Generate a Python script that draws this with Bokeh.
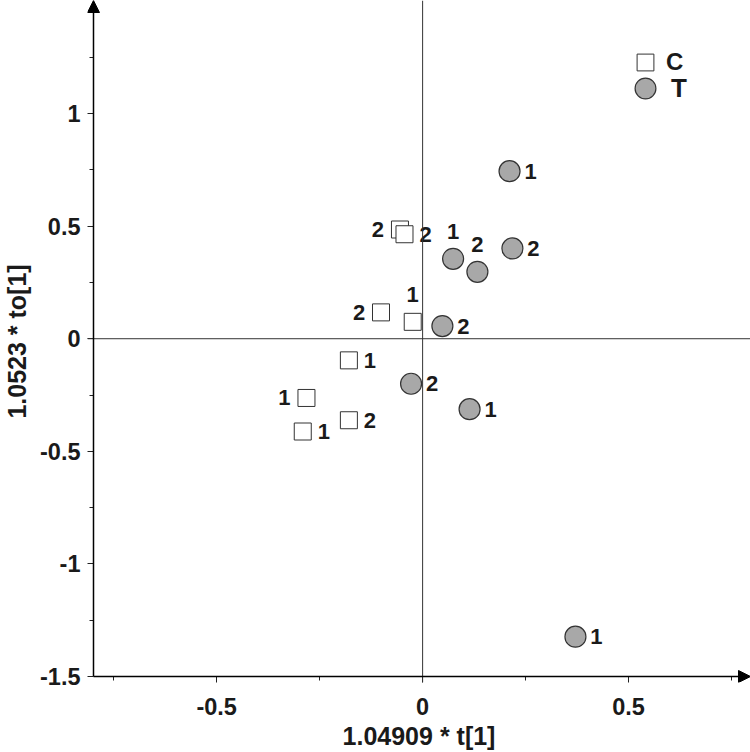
from bokeh.plotting import figure, ColumnDataSource
from bokeh.models import (FixedTicker, Span, Arrow, NormalHead, Legend, LegendItem)
from bokeh.core.properties import value
from bokeh.embed import file_html
from bokeh.resources import INLINE

# ---- data ----
c_x = [-0.055, -0.044, -0.101, -0.024, -0.179, -0.282, -0.179, -0.291]
c_y = [0.485, 0.464, 0.117, 0.075, -0.096, -0.263, -0.362, -0.412]
c_lab = ["2", "2", "2", "1", "1", "1", "2", "1"]
c_pos = ["left", "right", "left", "above", "right", "left", "right", "right"]

t_x = [0.074, 0.133, 0.218, 0.048, -0.028, 0.114, 0.211, 0.371]
t_y = [0.355, 0.297, 0.401, 0.056, -0.200, -0.313, 0.744, -1.323]
t_lab = ["1", "2", "2", "2", "2", "1", "1", "1"]
t_pos = ["above", "above", "right", "right", "right", "right", "right", "right"]

x_major = [-0.5, 0, 0.5]
x_minor = [-0.75, -0.25, 0.25, 0.75]
y_major = [-1.5, -1, -0.5, 0, 0.5, 1]
y_minor = [-1.25, -0.75, -0.25, 0.25, 0.75, 1.25]
x_axis_at, x_end = -0.799, 0.796     # where the y axis sits / tip of x arrow
y_axis_at, y_end = -1.5, 1.502       # where the x axis sits / tip of y arrow

FONT = "Liberation Sans"
OFFS = {"right": (21, 0), "left": (-22, 0), "above": (0, -27)}
GAP = 6  # px between frame edge and drawn axis line (room for arrow heads)
XPX, YPX = 412.0, 225.5  # px per data unit

p = figure(width=750, height=752,
           x_range=(x_axis_at - GAP / XPX, x_end),
           y_range=(y_axis_at - GAP / YPX, y_end),
           output_backend="svg", toolbar_location=None,
           min_border_left=87, min_border_right=0, min_border_top=0,
           min_border_bottom=69)
p.outline_line_color = None
p.grid.visible = False
p.background_fill_color = "white"

for ax, maj, mnr in ((p.xaxis[0], x_major, x_minor), (p.yaxis[0], y_major, y_minor)):
    ax.ticker = FixedTicker(ticks=maj, minor_ticks=mnr)
    ax.axis_line_color = None
    ax.major_tick_in = GAP
    ax.major_tick_out = 0
    ax.minor_tick_in = GAP
    ax.minor_tick_out = -2
    ax.major_tick_line_color = "#222222"
    ax.minor_tick_line_color = "#222222"
    ax.major_label_text_font = FONT
    ax.major_label_text_font_style = "bold"
    ax.major_label_text_font_size = "23.5px"
    ax.major_label_text_color = "#1a1a1a"
    ax.axis_label_text_font = FONT
    ax.axis_label_text_font_style = "bold"
    ax.axis_label_text_font_size = "25px"
    ax.axis_label_text_color = "#1a1a1a"

p.xaxis.axis_label = "1.04909 * t[1]"
p.yaxis.axis_label = "1.0523 * to[1]"
p.xaxis.major_label_standoff = 15
p.yaxis.major_label_standoff = 7
p.xaxis.axis_label_standoff = 4
p.yaxis.axis_label_standoff = 6
p.xaxis.major_label_overrides = {0: "0", 0.5: "0.5", -0.5: "-0.5"}
p.yaxis.major_label_overrides = {0: "0", 1: "1", -1: "-1", 0.5: "0.5", -0.5: "-0.5", -1.5: "-1.5"}

# zero lines
p.add_layout(Span(location=0, dimension="width", line_color="#333333", line_width=1))
p.add_layout(Span(location=0, dimension="height", line_color="#333333", line_width=1))

# axes drawn as arrows
p.add_layout(Arrow(x_start=x_axis_at, y_start=y_axis_at, x_end=x_axis_at, y_end=y_end,
                   line_color="black", line_width=1.5,
                   end=NormalHead(size=12, fill_color="black", line_color="black")))
p.add_layout(Arrow(x_start=x_axis_at, y_start=y_axis_at, x_end=x_end, y_end=y_axis_at,
                   line_color="black", line_width=1.5,
                   end=NormalHead(size=12, fill_color="black", line_color="black")))

c_src = ColumnDataSource(dict(x=c_x, y=c_y, lab=c_lab,
                              dx=[OFFS[k][0] for k in c_pos], dy=[OFFS[k][1] for k in c_pos]))
t_src = ColumnDataSource(dict(x=t_x, y=t_y, lab=t_lab,
                              dx=[OFFS[k][0] for k in t_pos], dy=[OFFS[k][1] for k in t_pos]))

rc = p.scatter("x", "y", source=c_src, marker="square", size=17,
               fill_color="white", line_color="#333333", line_width=1)
rt = p.scatter("x", "y", source=t_src, marker="circle", size=21,
               fill_color="#a8a8a8", line_color="#333333", line_width=1.2)

for src in (c_src, t_src):
    p.text("x", "y", text="lab", source=src, x_offset="dx", y_offset="dy",
           text_font=value(FONT), text_font_style="bold", text_font_size="22px",
           text_color="#1a1a1a", text_align="center", text_baseline="middle")

def make_legend(label, r, g, loc, fsize):
    return Legend(items=[LegendItem(label=label, renderers=[r])],
                  location=loc, orientation="vertical",
                  glyph_width=g, glyph_height=g, spacing=0, padding=0, margin=0,
                  label_standoff=0, label_text_font=FONT,
                  label_text_font_style="bold", label_text_font_size=fsize,
                  label_text_color="#1a1a1a", label_height=20,
                  border_line_color=None, background_fill_alpha=0)

p.add_layout(make_legend("C", rc, 42, (537, 599), "24px"))
p.add_layout(make_legend("T", rt, 52, (532, 568), "26px"))

open("out.html", "w").write(file_html(p, INLINE))
